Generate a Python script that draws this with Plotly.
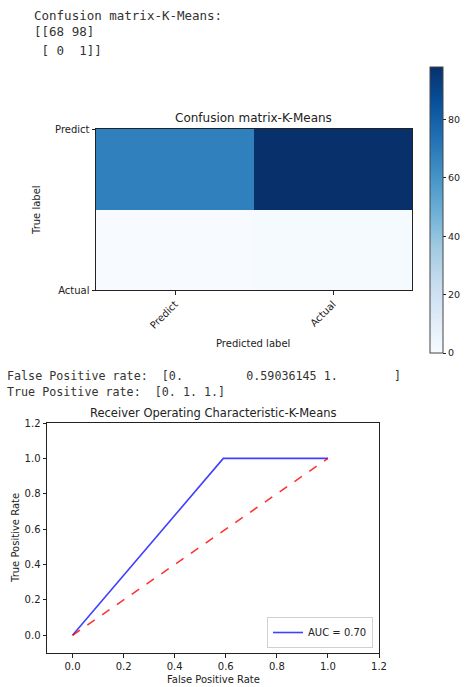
import plotly.graph_objects as go

# ---- data ----
cm_labels = ["Predict", "Actual"]
cm_values = [[68, 98], [0, 1]]
fpr = [0.0, 0.59036145, 1.0]
tpr = [0.0, 1.0, 1.0]
diag_x = [0, 1]
diag_y = [0, 1]
auc_value = 0.70
cbar_ticks = [0, 20, 40, 60, 80]
roc_ticks = [0.0, 0.2, 0.4, 0.6, 0.8, 1.0, 1.2]

W, H = 466, 687
def px(x): return x / W
def py(y): return 1 - y / H

blues = [[0.0, "#f7fbff"], [0.125, "#deebf7"], [0.25, "#c6dbef"], [0.375, "#9ecae1"],
         [0.5, "#6baed6"], [0.625, "#4292c6"], [0.75, "#2171b5"], [0.875, "#08519c"],
         [1.0, "#08306b"]]

fig = go.Figure()
fig.add_trace(go.Heatmap(
    z=cm_values, x=[0, 1], y=[0, 1], colorscale=blues, zmin=0, zmax=98,
    xaxis="x", yaxis="y", showscale=True, hoverinfo="z",
    colorbar=dict(x=px(430), xanchor="left", xpad=0, y=py(210), yanchor="middle",
                  len=286 / H, lenmode="fraction", thickness=13, ypad=0,
                  outlinewidth=1, outlinecolor="#444",
                  tickvals=cbar_ticks, ticks="outside", ticklen=3, tickcolor="#222",
                  tickfont=dict(family="DejaVu Sans", size=9.5, color="#222")),
))
fig.add_trace(go.Scatter(x=fpr, y=tpr, mode="lines", name="AUC = %0.2f" % auc_value,
                         line=dict(color="#0000ff", width=1.6), xaxis="x2", yaxis="y2",
                         opacity=0.75))
fig.add_trace(go.Scatter(x=diag_x, y=diag_y, mode="lines", showlegend=False,
                         line=dict(color="#ff0000", width=1.6, dash="dash"),
                         xaxis="x2", yaxis="y2", opacity=0.8))

axis_common = dict(showline=True, mirror=True, linecolor="#222", linewidth=1,
                   ticks="outside", ticklen=3.5, tickcolor="#222",
                   showgrid=False, zeroline=False, automargin=False,
                   tickfont=dict(family="DejaVu Sans", size=10, color="#222"))

fig.update_layout(
    width=W, height=H, margin=dict(l=0, r=0, t=0, b=0, pad=0, autoexpand=False),
    plot_bgcolor="white", paper_bgcolor="white",
    xaxis=dict(domain=[px(96), px(412)], range=[-0.5, 1.5], tickvals=[0, 1],
               ticktext=cm_labels, tickangle=-45, anchor="y", **axis_common),
    yaxis=dict(domain=[py(290), py(129)], range=[1, 0], tickvals=[0, 1],
               ticktext=cm_labels, anchor="x", **axis_common),
    xaxis2=dict(domain=[px(47), px(379)], range=[-0.1, 1.2], tickvals=roc_ticks,
                tickformat=".1f", anchor="y2", **axis_common),
    yaxis2=dict(domain=[py(653), py(423)], range=[-0.1, 1.2], tickvals=roc_ticks,
                tickformat=".1f", anchor="x2", **axis_common),
    showlegend=True,
    legend=dict(x=px(373), xanchor="right", y=py(648), yanchor="bottom",
                bordercolor="#d0d0d0", borderwidth=1, bgcolor="white",
                font=dict(family="DejaVu Sans", size=10, color="#222"),
                itemwidth=30, tracegroupgap=0),
)

mono_top = dict(family="DejaVu Sans Mono", size=12.5, color="#333")
mono_bot = dict(family="DejaVu Sans Mono", size=11.7, color="#333")
sans = dict(family="DejaVu Sans", size=10, color="#222")
annots = [
    dict(x=px(32), y=py(15), text="Confusion matrix-K-Means:", font=mono_top, xanchor="left"),
    dict(x=px(32), y=py(32), text="[[68 98]", font=mono_top, xanchor="left"),
    dict(x=px(32), y=py(50), text="&nbsp;[ 0&nbsp;&nbsp;1]]", font=mono_top, xanchor="left"),
    dict(x=px(5), y=py(376), text="False Positive rate:&nbsp;&nbsp;[0.&nbsp;&nbsp;&nbsp;&nbsp;&nbsp;&nbsp;&nbsp;&nbsp;&nbsp;0.59036145 1.&nbsp;&nbsp;&nbsp;&nbsp;&nbsp;&nbsp;&nbsp;&nbsp;]",
         font=mono_bot, xanchor="left"),
    dict(x=px(5), y=py(392), text="True Positive rate:&nbsp;&nbsp;[0. 1. 1.]", font=mono_bot, xanchor="left"),
    dict(x=px(253), y=py(118), text="Confusion matrix-K-Means", font=dict(family="DejaVu Sans", size=12, color="#222"), xanchor="center"),
    dict(x=px(253), y=py(343), text="Predicted label", font=sans, xanchor="center"),
    dict(x=px(36), y=py(210), text="True label", font=sans, textangle=-90, xanchor="center"),
    dict(x=px(213), y=py(413), text="Receiver Operating Characteristic-K-Means", font=dict(family="DejaVu Sans", size=11.5, color="#222"), xanchor="center"),
    dict(x=px(213), y=py(679), text="False Positive Rate", font=sans, xanchor="center"),
    dict(x=px(15), y=py(538), text="True Positive Rate", font=sans, textangle=-90, xanchor="center"),
]
for a in annots:
    a.update(xref="paper", yref="paper", showarrow=False, yanchor="middle")
fig.update_layout(annotations=annots)

fig.write_html("out.html", config={"displayModeBar": False},
               post_script="document.body.style.margin='0';document.body.style.overflow='hidden';")
